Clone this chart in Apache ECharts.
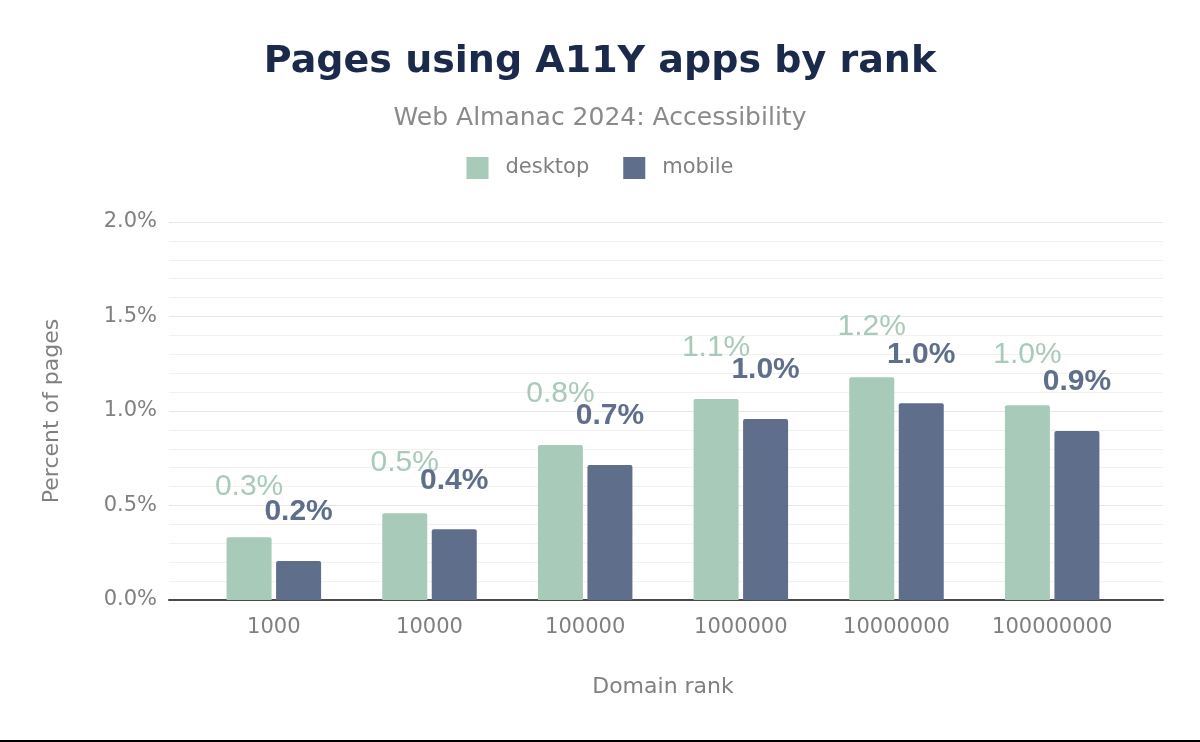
<!DOCTYPE html>
<html>
<head>
<meta charset="utf-8">
<script src="https://cdn.jsdelivr.net/npm/echarts@6/dist/echarts.min.js"></script>
<style>
html,body{margin:0;padding:0;background:#fff;}
#chart{width:1200px;height:742px;}
</style>
</head>
<body>
<div id="chart"></div>
<script>
const categories = ['1000', '10000', '100000', '1000000', '10000000', '100000000'];
const desktop = [0.332, 0.459, 0.82, 1.063, 1.178, 1.030];
const mobile = [0.206, 0.374, 0.714, 0.958, 1.041, 0.894];
const yTicks = [0, 0.5, 1.0, 1.5, 2.0];

const DESKTOP_COLOR = '#a8cab9';
const MOBILE_COLOR = '#5f6f8b';
const GRAY = '#808080';

const chart = echarts.init(document.getElementById('chart'));
const yMin = yTicks[0], yMax = yTicks[yTicks.length - 1], yStep = yTicks[1] - yTicks[0];

chart.setOption({
  backgroundColor: '#fff',
  animation: false,
  title: [
    {
      text: 'Pages using A11Y apps by rank',
      left: 'center', top: 38,
      textStyle: { fontFamily: 'DejaVu Sans', fontWeight: 'bold', fontSize: 38, color: '#1b2a4a' }
    },
    {
      text: 'Web Almanac 2024: Accessibility',
      left: 'center', top: 101,
      textStyle: { fontFamily: 'DejaVu Sans', fontWeight: 'normal', fontSize: 25, color: '#8a8a8a' }
    }
  ],
  legend: {
    top: 157, left: 'center', padding: 0,
    itemWidth: 22, itemHeight: 22, itemGap: 34,
    icon: 'rect',
    textStyle: { fontFamily: 'DejaVu Sans', fontSize: 21, color: GRAY, padding: [0, 0, 0, 12] },
    data: ['desktop', 'mobile']
  },
  grid: [
    { left: 169, right: 37, top: 222, bottom: 142 },
    { left: 196, right: 70, top: 222, bottom: 142 }
  ],
  xAxis: [
    {
      gridIndex: 0, type: 'value', min: 0, max: 1,
      axisLine: { show: true, lineStyle: { color: '#4a4a4a', width: 2 } },
      axisTick: { show: false }, axisLabel: { show: false }, splitLine: { show: false }
    },
    {
      gridIndex: 1, type: 'category', data: categories,
      axisLine: { show: false }, axisTick: { show: false },
      axisLabel: { interval: 0, margin: 17, fontFamily: 'DejaVu Sans', fontSize: 21, color: GRAY },
      name: 'Domain rank', nameLocation: 'middle', nameGap: 76,
      nameTextStyle: { fontFamily: 'DejaVu Sans', fontSize: 22, color: GRAY }
    }
  ],
  yAxis: [
    {
      gridIndex: 0, type: 'value', min: yMin, max: yMax, interval: yStep,
      axisLine: { show: false }, axisTick: { show: false },
      axisLabel: { margin: 12, fontFamily: 'DejaVu Sans', fontSize: 21, color: GRAY,
        formatter: v => v.toFixed(1) + '%' },
      splitLine: { show: true, lineStyle: { color: '#e6e6e6', width: 1 } },
      minorTick: { show: false, splitNumber: 5 },
      minorSplitLine: { show: true, lineStyle: { color: '#f1f1f1', width: 1 } },
      name: 'Percent of pages', nameLocation: 'middle', nameGap: 106,
      nameTextStyle: { fontFamily: 'DejaVu Sans', fontSize: 22, color: GRAY }
    },
    {
      gridIndex: 1, type: 'value', min: yMin, max: yMax, interval: yStep,
      show: false, splitLine: { show: false }
    }
  ],
  series: [
    {
      name: 'desktop', type: 'bar', xAxisIndex: 1, yAxisIndex: 1,
      data: desktop, barWidth: 45, barGap: '10%',
      itemStyle: { color: DESKTOP_COLOR, borderRadius: [2, 2, 0, 0] },
      label: { show: true, position: 'top', distance: 36,
        formatter: p => p.value.toFixed(1) + '%',
        fontFamily: 'Liberation Sans', fontSize: 30, fontWeight: 'normal', color: DESKTOP_COLOR }
    },
    {
      name: 'mobile', type: 'bar', xAxisIndex: 1, yAxisIndex: 1,
      data: mobile, barWidth: 45, barGap: '10%',
      itemStyle: { color: MOBILE_COLOR, borderRadius: [2, 2, 0, 0] },
      label: { show: true, position: 'top', distance: 34,
        formatter: p => p.value.toFixed(1) + '%',
        fontFamily: 'Liberation Sans', fontSize: 30, fontWeight: 'bold', color: MOBILE_COLOR }
    }
  ],
  graphic: [
    { type: 'rect', left: 0, top: 740, shape: { width: 1200, height: 2 }, style: { fill: '#000' }, silent: true }
  ]
});
</script>
</body>
</html>
